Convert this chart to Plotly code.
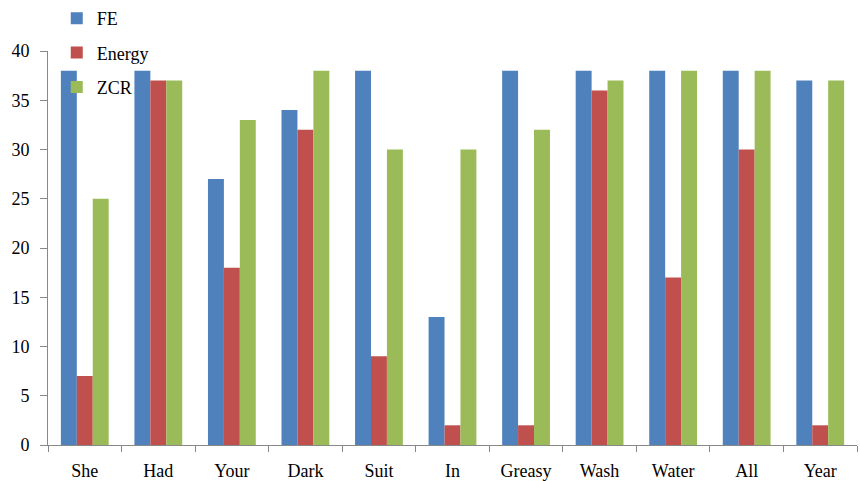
import plotly.graph_objects as go

words = ["She", "Had", "Your", "Dark", "Suit", "In", "Greasy", "Wash", "Water", "All", "Year"]
fe = [38, 38, 27, 34, 38, 13, 38, 38, 38, 38, 37]
energy = [7, 37, 18, 32, 9, 2, 2, 36, 17, 30, 2]
zcr = [25, 37, 33, 38, 30, 30, 32, 37, 38, 38, 37]

series = [("FE", fe, "#4f81bd"), ("Energy", energy, "#c0504d"), ("ZCR", zcr, "#9bbb59")]

fig = go.Figure()
for name, vals, color in series:
    fig.add_trace(go.Bar(x=words, y=vals, name=name, marker_color=color,
                         marker_line_width=0, legendgroup=name))

serif = "Times New Roman, Liberation Serif, serif"
axis_font = dict(family=serif, size=18, color="#000000")
fig.update_layout(
    width=860, height=481,
    margin=dict(l=48, r=3, t=51, b=36, autoexpand=False),
    paper_bgcolor="white", plot_bgcolor="white",
    barmode="group", bargap=0.35, bargroupgap=0,
    font=axis_font,
    legend=dict(xref="container", yref="container", x=0.066, y=1.0,
                xanchor="left", yanchor="top",
                traceorder="grouped", tracegroupgap=8,
                font=dict(family=serif, size=18, color="#000000"),
                bgcolor="rgba(0,0,0,0)"),
    showlegend=True,
)
fig.update_xaxes(showline=True, linecolor="#888888", linewidth=1, automargin=False,
                 ticks="outside", tickson="boundaries", ticklen=6, tickcolor="#888888",
                 showgrid=False, tickfont=axis_font, ticklabelstandoff=9)
fig.update_yaxes(range=[0, 40], dtick=5, showline=True, linecolor="#888888", linewidth=1,
                 automargin=False,
                 ticks="outside", ticklen=7, tickcolor="#888888",
                 showgrid=False, zeroline=False, tickfont=axis_font, ticklabelstandoff=7)

fig.write_html("out.html")
